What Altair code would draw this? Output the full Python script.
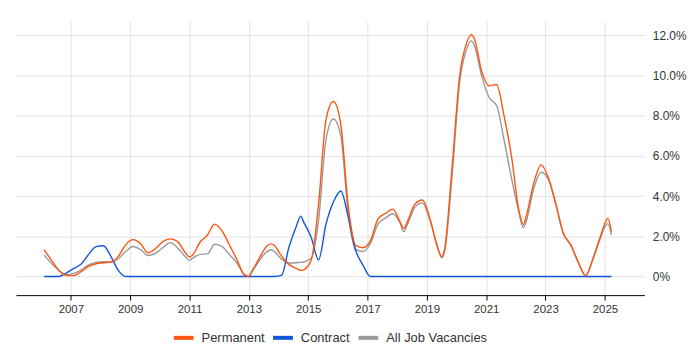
import altair as alt
import pandas as pd

YEARS = [
    2006.10, 2006.35, 2006.60, 2006.85,
    2007.10, 2007.35, 2007.60, 2007.85,
    2008.10, 2008.35, 2008.60, 2008.85,
    2009.10, 2009.35, 2009.60, 2009.85,
    2010.10, 2010.35, 2010.60, 2010.85,
    2011.00, 2011.10, 2011.35, 2011.60, 2011.85,
    2012.10, 2012.35, 2012.60, 2012.85,
    2013.00, 2013.10, 2013.35, 2013.60, 2013.75, 2013.85,
    2014.10, 2014.35, 2014.60, 2014.75, 2014.85,
    2015.10, 2015.35, 2015.60, 2015.85,
    2016.10, 2016.35, 2016.60, 2016.85,
    2017.10, 2017.35, 2017.60, 2017.85,
    2018.10, 2018.22, 2018.35, 2018.60, 2018.85,
    2019.10, 2019.35, 2019.50, 2019.60, 2019.85,
    2020.10, 2020.35, 2020.50, 2020.60, 2020.85,
    2021.10, 2021.35, 2021.60, 2021.85,
    2022.10, 2022.25, 2022.35, 2022.60, 2022.85,
    2023.10, 2023.35, 2023.60, 2023.85,
    2024.10, 2024.35, 2024.60, 2024.85,
    2025.00, 2025.10, 2025.22,
]

PERMANENT = [
    1.33, 0.80, 0.30, 0.05,
    0.04, 0.24, 0.50, 0.63,
    0.68, 0.72, 1.00, 1.57,
    1.83, 1.63, 1.18, 1.38,
    1.73, 1.87, 1.73, 1.20,
    0.97, 1.05, 1.70, 2.05, 2.60,
    2.25, 1.55, 0.83, 0.08,
    0.00, 0.25, 0.90, 1.50, 1.62, 1.55,
    1.02, 0.60, 0.40, 0.30, 0.33,
    0.80, 3.60, 7.80, 8.70,
    7.55, 3.50, 1.55, 1.43,
    1.78, 2.85, 3.13, 3.35,
    2.70, 2.39, 2.75, 3.60, 3.80,
    2.90, 1.48, 0.98, 1.38, 5.43,
    9.90, 11.66, 12.03, 11.82, 10.20,
    9.48, 9.55, 8.00, 6.00,
    3.30, 2.58, 3.00, 4.63, 5.55,
    4.90, 3.60, 2.15, 1.58,
    0.72, 0.04, 0.90, 2.00,
    2.63, 2.90, 2.22,
]

CONTRACT = [
    0.00, 0.00, 0.00, 0.17,
    0.40, 0.62, 1.10, 1.48,
    1.53, 1.00, 0.30, 0.00,
    0.00, 0.00, 0.00, 0.00,
    0.00, 0.00, 0.00, 0.00,
    0.00, 0.00, 0.00, 0.00, 0.00,
    0.00, 0.00, 0.00, 0.00,
    0.00, 0.00, 0.00, 0.00, 0.00, 0.00,
    0.05, 1.45, 2.50, 3.00, 2.70,
    1.95, 0.82, 2.60, 3.70,
    4.25, 2.95, 1.30, 0.55,
    0.00, 0.00, 0.00, 0.00,
    0.00, 0.00, 0.00, 0.00, 0.00,
    0.00, 0.00, 0.00, 0.00, 0.00,
    0.00, 0.00, 0.00, 0.00, 0.00,
    0.00, 0.00, 0.00, 0.00,
    0.00, 0.00, 0.00, 0.00, 0.00,
    0.00, 0.00, 0.00, 0.00,
    0.00, 0.00, 0.00, 0.00,
    0.00, 0.00, 0.00,
]

ALL_JOBS = [
    1.05, 0.65, 0.30, 0.08,
    0.15, 0.33, 0.58, 0.70,
    0.73, 0.71, 0.88, 1.24,
    1.49, 1.33, 1.04, 1.15,
    1.43, 1.68, 1.42, 1.00,
    0.80, 0.90, 1.10, 1.12, 1.60,
    1.48, 1.08, 0.67, 0.08,
    0.00, 0.22, 0.78, 1.22, 1.33, 1.25,
    0.86, 0.67, 0.68, 0.70, 0.72,
    0.90, 2.80, 6.80, 7.83,
    7.00, 3.10, 1.35, 1.24,
    1.65, 2.60, 2.90, 3.12,
    2.64, 2.23, 2.60, 3.45, 3.66,
    2.80, 1.55, 0.93, 1.25, 5.00,
    9.60, 11.35, 11.72, 11.50, 9.95,
    8.90, 8.50, 6.80, 4.90,
    3.20, 2.43, 2.75, 4.35, 5.18,
    4.80, 3.55, 2.12, 1.55,
    0.70, 0.04, 0.85, 1.90,
    2.47, 2.63, 2.05,
]

SERIES = ["Permanent", "Contract", "All Job Vacancies"]
COLORS = ["#FF5511", "#1155DD", "#999999"]
X_TICKS = [2007, 2009, 2011, 2013, 2015, 2017, 2019, 2021, 2023, 2025]
Y_TICKS = [0, 2, 4, 6, 8, 10, 12]

rows = []
for name, vals in zip(SERIES, [PERMANENT, CONTRACT, ALL_JOBS]):
    for yr, v in zip(YEARS, vals):
        rows.append({"year": yr, "value": v, "series": name})
df = pd.DataFrame(rows)

FONT = "Liberation Sans"

base = alt.Chart(df).mark_line(strokeWidth=1.4, interpolate="monotone").encode(
    x=alt.X(
        "year:Q",
        scale=alt.Scale(domain=[2005.15, 2026.33], nice=False, zero=False),
        axis=alt.Axis(
            values=X_TICKS, format="d", title=None, grid=True,
            gridColor="#e3e3e3", domainColor="#000000", tickColor="#000000",
            tickSize=5, labelFontSize=11.5, labelColor="#333333",
            labelPadding=3, labelFont=FONT,
        ),
    ),
    y=alt.Y(
        "value:Q",
        scale=alt.Scale(domain=[-0.93, 12.7], nice=False, zero=False),
        axis=alt.Axis(
            orient="right", values=Y_TICKS, title=None, domain=False, ticks=False,
            labelExpr="datum.value == 0 ? '0%' : format(datum.value, '.1f') + '%'",
            gridColor="#e3e3e3", labelFontSize=12, labelColor="#333333",
            labelPadding=8, labelFont=FONT,
        ),
    ),
    color=alt.Color(
        "series:N",
        scale=alt.Scale(domain=SERIES, range=COLORS),
        legend=alt.Legend(
            orient="none", legendX=157, legendY=307,
            direction="horizontal", title=None,
            symbolType="stroke", symbolStrokeWidth=4, symbolSize=400,
            labelFontSize=13, labelColor="#333333", labelFont=FONT,
            labelOffset=6, columnPadding=0,
        ),
    ),
)

layers = [
    base.transform_filter(alt.datum.series == "All Job Vacancies"),
    base.transform_filter(alt.datum.series == "Contract"),
    base.transform_filter(alt.datum.series == "Permanent"),
]

chart = alt.layer(*layers).properties(
    width=633, height=276,
    padding={"left": 8, "top": 12, "right": 5, "bottom": 0},
).configure_view(stroke=None)

chart.save("out.html", embed_options={"renderer": "svg", "actions": False})
